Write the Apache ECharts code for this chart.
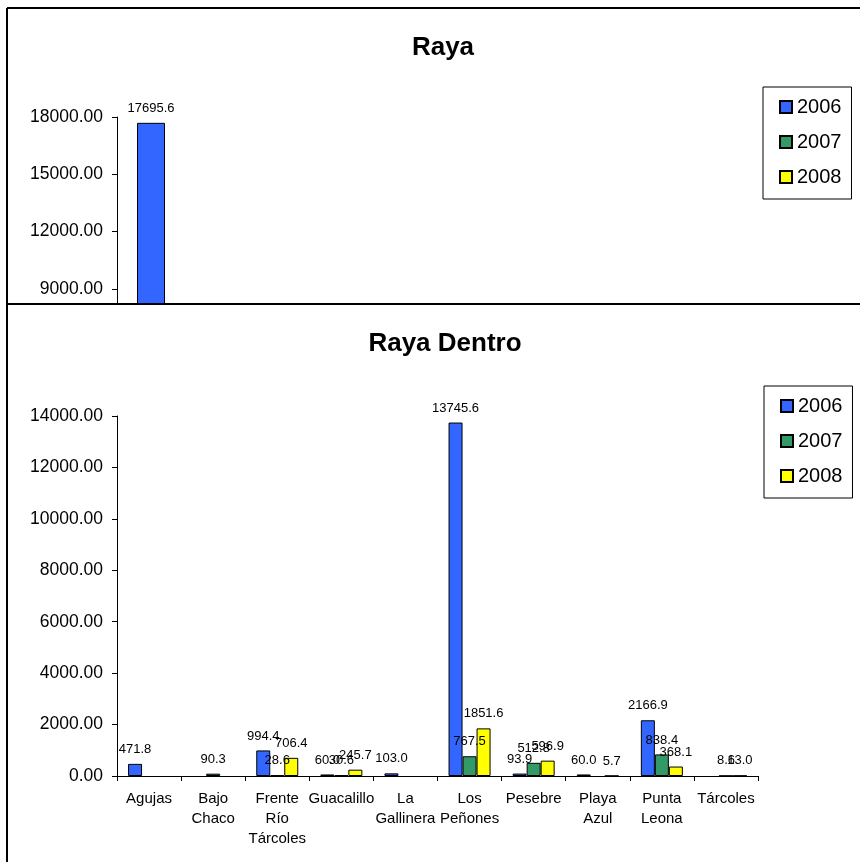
<!DOCTYPE html>
<html>
<head>
<meta charset="utf-8">
<script src="https://cdn.jsdelivr.net/npm/echarts@6/dist/echarts.min.js"></script>
<style>
html,body{margin:0;padding:0;background:#fff;}
#chart{width:860px;height:862px;}
</style>
</head>
<body>
<div id="chart"></div>
<script>
// ---- data ----
const years = ['2006', '2007', '2008'];
const colors = ['#3366FF', '#339966', '#FFFF00'];

// Panel "Raya" (only the visible part of this chart survives in the picture)
const rayaCategories = ['Agujas'];
const raya2006 = [17695.6];
const raya2007 = [null];
const raya2008 = [null];
const rayaTicks = [9000, 12000, 15000, 18000];

// Panel "Raya Dentro"
const categories = ['Agujas', 'Bajo Chaco', 'Frente Río Tárcoles', 'Guacalillo', 'La Gallinera',
  'Los Peñones', 'Pesebre', 'Playa Azul', 'Punta Leona', 'Tárcoles'];
const dentro2006 = [471.8, null, 994.4, 60.0, 103.0, 13745.6, 93.9, 60.0, 2166.9, null];
const dentro2007 = [null, 90.3, 28.6, 30.6, null, 767.5, 512.8, null, 838.4, 8.6];
const dentro2008 = [null, null, 706.4, 245.7, null, 1851.6, 596.9, 5.7, 368.1, 13.0];

// ---- chart ----
const FONT = "'Liberation Sans', Arial, sans-serif";
const chart = echarts.init(document.getElementById('chart'), null, {renderer: 'canvas'});

const labelCfg = {
  show: true, position: 'top', distance: 8, fontSize: 13, color: '#000', fontFamily: FONT,
  formatter: p => (p.value == null ? '' : Number(p.value).toFixed(1))
};
function barSeries(name, data, idx, gi, width) {
  return {
    name: name, type: 'bar', xAxisIndex: gi, yAxisIndex: gi, data: data,
    barWidth: width, barGap: '0%',
    itemStyle: {color: colors[idx], borderColor: '#000', borderWidth: 1},
    label: labelCfg
  };
}
const axisLineStyle = {color: '#000', width: 1};
function legendCfg(left, top) {
  return {
    data: years, orient: 'vertical', left: left, top: top,
    itemWidth: 12, itemHeight: 12, itemGap: 15, icon: 'rect',
    padding: [10, 10, 12, 16], borderColor: '#000', borderWidth: 1,
    textStyle: {fontSize: 20, color: '#000', fontFamily: FONT},
    selectedMode: false
  };
}
const yLabel = {fontSize: 17.5, color: '#000', fontFamily: FONT, margin: 14, formatter: v => Number(v).toFixed(2)};

const option = {
  animation: false,
  backgroundColor: '#fff',
  textStyle: {fontFamily: FONT},
  title: [
    {text: 'Raya', left: 438, top: 30, textAlign: 'center',
      textStyle: {fontSize: 26, fontWeight: 'bold', color: '#000', fontFamily: FONT}},
    {text: 'Raya Dentro', left: 440, top: 326, textAlign: 'center',
      textStyle: {fontSize: 26, fontWeight: 'bold', color: '#000', fontFamily: FONT}}
  ],
  legend: [legendCfg(763, 87), legendCfg(764, 386)],
  grid: [
    {left: 117, top: 117, width: 124, height: 187, containLabel: false},
    {left: 117, top: 416, width: 641, height: 360, containLabel: false}
  ],
  xAxis: [
    {gridIndex: 0, type: 'category', data: rayaCategories,
      axisLine: {show: false}, axisTick: {show: false}, axisLabel: {show: false}, splitLine: {show: false}},
    {gridIndex: 1, type: 'category', data: categories,
      axisLine: {show: true, lineStyle: axisLineStyle},
      axisTick: {show: true, length: 5, lineStyle: axisLineStyle},
      axisLabel: {interval: 0, fontSize: 15, color: '#000', fontFamily: FONT, margin: 13, lineHeight: 20,
        formatter: v => v.split(' ').join('\n')},
      splitLine: {show: false}}
  ],
  yAxis: [
    {gridIndex: 0, type: 'value', min: 8215, max: 18000,
      axisLine: {show: true, lineStyle: axisLineStyle},
      axisTick: {show: true, length: 5, lineStyle: axisLineStyle, customValues: rayaTicks},
      axisLabel: Object.assign({customValues: rayaTicks}, yLabel),
      splitLine: {show: false}},
    {gridIndex: 1, type: 'value', min: 0, max: 14000, interval: 2000,
      axisLine: {show: true, lineStyle: axisLineStyle},
      axisTick: {show: true, length: 5, lineStyle: axisLineStyle},
      axisLabel: yLabel,
      splitLine: {show: false}}
  ],
  series: [
    barSeries(years[0], raya2006, 0, 0, 28),
    barSeries(years[1], raya2007, 1, 0, 28),
    barSeries(years[2], raya2008, 2, 0, 28),
    barSeries(years[0], dentro2006, 0, 1, 14),
    barSeries(years[1], dentro2007, 1, 1, 14),
    barSeries(years[2], dentro2008, 2, 1, 14)
  ],
  graphic: [
    {type: 'line', shape: {x1: 7, y1: 8, x2: 860, y2: 8}, style: {stroke: '#000', lineWidth: 2}, z: 100},
    {type: 'line', shape: {x1: 7, y1: 8, x2: 7, y2: 862}, style: {stroke: '#000', lineWidth: 2}, z: 100},
    {type: 'line', shape: {x1: 7, y1: 304, x2: 860, y2: 304}, style: {stroke: '#000', lineWidth: 2}, z: 100}
  ]
};
chart.setOption(option);
</script>
</body>
</html>
